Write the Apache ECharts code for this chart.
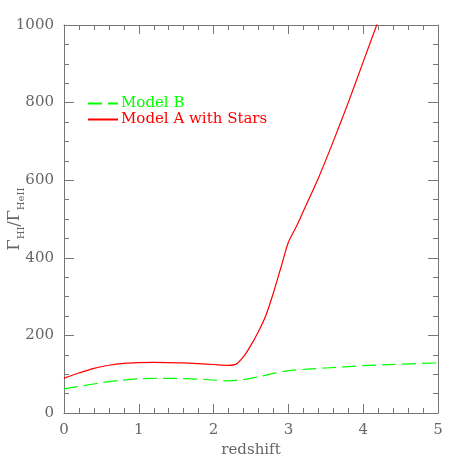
<!DOCTYPE html>
<html>
<head>
<meta charset="utf-8">
<script src="https://cdn.jsdelivr.net/npm/echarts@6/dist/echarts.min.js"></script>
<style>
  html, body { margin: 0; padding: 0; background: #fff; }
  #chart { width: 463px; height: 463px; }
</style>
</head>
<body>
<div id="chart"></div>
<script>
// redshift grid and ratio values
var redshiftB = [0, 0.25, 0.5, 0.75, 1.0, 1.25, 1.5, 1.75, 2.0, 2.2, 2.4, 2.6, 2.8, 3.0, 3.25, 3.5, 4.0, 4.5, 5.0];
var modelB    = [62, 70, 78, 84, 88, 89.5, 89, 87.5, 85, 83, 86, 93, 102, 109, 113, 116, 122, 126, 129];

var redshiftA = [0, 0.2, 0.4, 0.6, 0.8, 1.0, 1.2, 1.4, 1.6, 1.8, 2.0, 2.2, 2.3, 2.4, 2.5, 2.6, 2.7, 2.8, 2.9, 3.0, 3.1, 3.2, 3.4, 3.6, 3.8, 4.0, 4.2, 4.3];
var modelA    = [90, 103, 115, 123, 128, 130, 130.5, 130, 129, 127, 125, 123, 126, 145, 175, 210, 252, 310, 375, 440, 478, 520, 605, 700, 800, 905, 1010, 1060];

var seriesNames = ['Model B', 'Model A with Stars'];
var seriesColors = ['#00ff00', '#ff0000'];

function pairs(xs, ys) {
	var out = [];
	for (var i = 0; i < xs.length; i++) out.push([xs[i], ys[i]]);
	return out;
}

var font = 'DejaVu Serif';
var axisGray = '#777';
var labelGray = '#666';

var tickX = { show: true, inside: true, length: 9, lineStyle: { color: axisGray } };
var minorX = { show: true, splitNumber: 5, length: 5, lineStyle: { color: axisGray } };
var tickY = { show: true, inside: true, length: 10, lineStyle: { color: axisGray } };
var minorY = { show: true, splitNumber: 4, length: 5, lineStyle: { color: axisGray } };

var myChart = echarts.init(document.getElementById('chart'));
var option = {
	animation: false,
	backgroundColor: '#fff',
	grid: { left: 64, right: 25, top: 25, bottom: 50, containLabel: false, outerBoundsMode: 'none' },
	legend: {
		orient: 'vertical',
		left: 87,
		top: 96,
		padding: 0,
		itemWidth: 30,
		itemHeight: 10,
		itemGap: 1,
		data: [
			{ name: seriesNames[0], textStyle: { color: seriesColors[0] } },
			{ name: seriesNames[1], textStyle: { color: seriesColors[1] } }
		],
		itemStyle: { color: 'transparent', borderWidth: 0, opacity: 0 },
		textStyle: { fontFamily: font, fontSize: 15, padding: [0, 0, 0, -2] }
	},
	xAxis: [
		{
			type: 'value', min: 0, max: 5, interval: 1, position: 'bottom',
			name: 'redshift', nameLocation: 'middle', nameGap: 30,
			nameTextStyle: { fontFamily: font, fontSize: 15, color: labelGray },
			axisLine: { onZero: false, lineStyle: { color: axisGray } },
			axisTick: tickX, minorTick: minorX,
			axisLabel: { fontFamily: font, fontSize: 15, color: labelGray, margin: 10 },
			splitLine: { show: false }
		},
		{
			type: 'value', min: 0, max: 5, interval: 1, position: 'top',
			axisLine: { onZero: false, lineStyle: { color: axisGray } },
			axisTick: tickX, minorTick: minorX,
			axisLabel: { show: false }, splitLine: { show: false }
		}
	],
	yAxis: [
		{
			type: 'value', min: 0, max: 1000, interval: 200, position: 'left',
			name: '{g|Γ}{s|HI}{g|/Γ}{s|HeII}', nameLocation: 'middle', nameGap: 38, nameRotate: 90,
			nameMoveOverlap: false,
			nameTextStyle: {
				color: labelGray,
				rich: {
					g: { fontFamily: font, fontSize: 16, color: labelGray, lineHeight: 22, verticalAlign: 'middle' },
					s: { fontFamily: font, fontSize: 10, color: labelGray, lineHeight: 22, verticalAlign: 'bottom', padding: [6, 0, 0, 0] }
				}
			},
			axisLine: { onZero: false, lineStyle: { color: axisGray } },
			axisTick: tickY, minorTick: minorY,
			axisLabel: { fontFamily: font, fontSize: 15, color: labelGray, margin: 10, formatter: function (v) { return String(v); } },
			splitLine: { show: false }
		},
		{
			type: 'value', min: 0, max: 1000, interval: 200, position: 'right',
			axisLine: { onZero: false, lineStyle: { color: axisGray } },
			axisTick: tickY, minorTick: minorY,
			axisLabel: { show: false }, splitLine: { show: false }
		}
	],
	series: [
		{
			name: seriesNames[0], type: 'line', data: pairs(redshiftB, modelB),
			showSymbol: false, symbol: 'none', smooth: 0.3, clip: true,
			itemStyle: { color: seriesColors[0] },
			lineStyle: { color: seriesColors[0], width: 1.2, type: [14, 6] }
		},
		{
			name: seriesNames[1], type: 'line', data: pairs(redshiftA, modelA),
			showSymbol: false, symbol: 'none', smooth: 0.3, clip: true,
			itemStyle: { color: seriesColors[1] },
			lineStyle: { color: seriesColors[1], width: 1.2 }
		}
	]
};
myChart.setOption(option);
</script>
</body>
</html>
